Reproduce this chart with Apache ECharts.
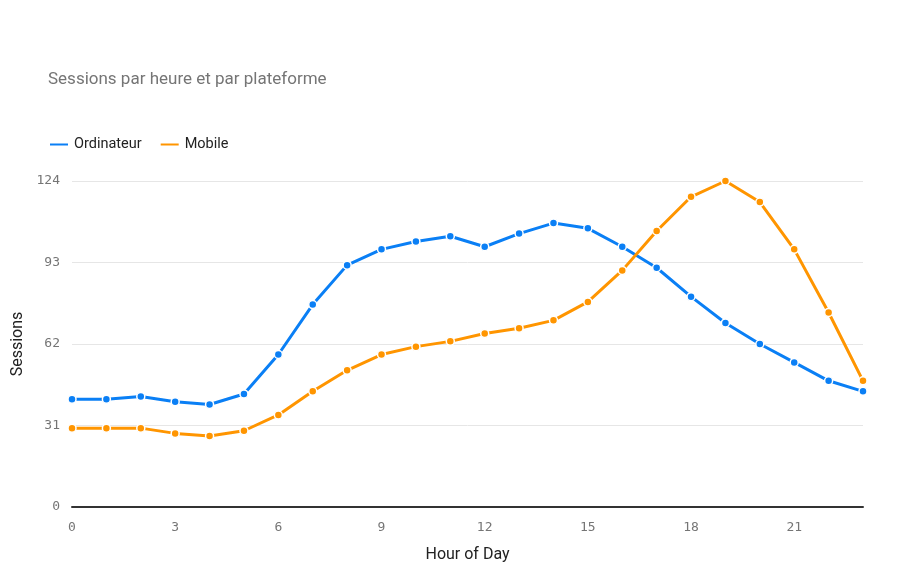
<!DOCTYPE html>
<html>
<head>
<meta charset="utf-8">
<script src="https://cdn.jsdelivr.net/npm/echarts@6/dist/echarts.min.js"></script>
<style>
  html, body { margin: 0; padding: 0; background: #fff; }
  #chart { width: 900px; height: 580px; }
</style>
</head>
<body>
<div id="chart"></div>
<script>
var hours = ["0","1","2","3","4","5","6","7","8","9","10","11","12","13","14","15","16","17","18","19","20","21","22","23"];
var ordinateur = [41, 41, 42, 40, 39, 43, 58, 77, 92, 98, 101, 103, 99, 104, 108, 106, 99, 91, 80, 70, 62, 55, 48, 44];
var mobile = [30, 30, 30, 28, 27, 29, 35, 44, 52, 58, 61, 63, 66, 68, 71, 78, 90, 105, 118, 124, 116, 98, 74, 48];
var yTicks = [0, 31, 62, 93, 124];

var blue = "#0a7ff5";
var orange = "#ff9500";

function lineSeries(name, data, color) {
    return {
        name: name,
        type: "line",
        data: data,
        symbol: "circle",
        symbolSize: 8,
        lineStyle: { width: 3, color: color },
        itemStyle: { color: color, borderColor: "#fff", borderWidth: 1.5 },
        emphasis: { disabled: true }
    };
}

var option = {
    backgroundColor: "#fff",
    animation: false,
    textStyle: { fontFamily: "Roboto" },
    title: {
        text: "Sessions par heure et par plateforme",
        left: 43,
        top: 66,
        textStyle: { fontFamily: "Roboto", fontSize: 17, fontWeight: "normal", color: "#757575" }
    },
    legend: {
        left: 43,
        top: 132,
        icon: "rect",
        itemWidth: 20,
        itemHeight: 4,
        itemGap: 17,
        textStyle: { fontFamily: "Roboto", fontSize: 14.5, color: "#222" },
        data: ["Ordinateur", "Mobile"]
    },
    grid: { left: 72, right: 37, top: 181, bottom: 73 },
    xAxis: {
        type: "category",
        data: hours,
        boundaryGap: false,
        name: "Hour of Day",
        nameLocation: "middle",
        nameGap: 40,
        nameTextStyle: { fontFamily: "Roboto", fontSize: 16, color: "#222" },
        axisLine: { lineStyle: { color: "#333", width: 2 } },
        axisTick: { show: false },
        axisLabel: {
            interval: 2,
            margin: 14,
            fontFamily: "DejaVu Sans Mono",
            fontSize: 13,
            color: "#757575"
        },
        splitLine: { show: false }
    },
    yAxis: {
        type: "value",
        min: yTicks[0],
        max: yTicks[yTicks.length - 1],
        interval: yTicks[1] - yTicks[0],
        name: "Sessions",
        nameLocation: "middle",
        nameGap: 45,
        nameTextStyle: { fontFamily: "Roboto", fontSize: 16, color: "#222" },
        axisLine: { show: false },
        axisTick: { show: false },
        axisLabel: {
            margin: 12,
            fontFamily: "DejaVu Sans Mono",
            fontSize: 13,
            color: "#757575"
        },
        splitLine: { lineStyle: { color: "#e6e6e6", width: 1 } }
    },
    series: [
        lineSeries("Ordinateur", ordinateur, blue),
        lineSeries("Mobile", mobile, orange)
    ]
};

var chart = echarts.init(document.getElementById("chart"));
chart.setOption(option);
</script>
</body>
</html>
